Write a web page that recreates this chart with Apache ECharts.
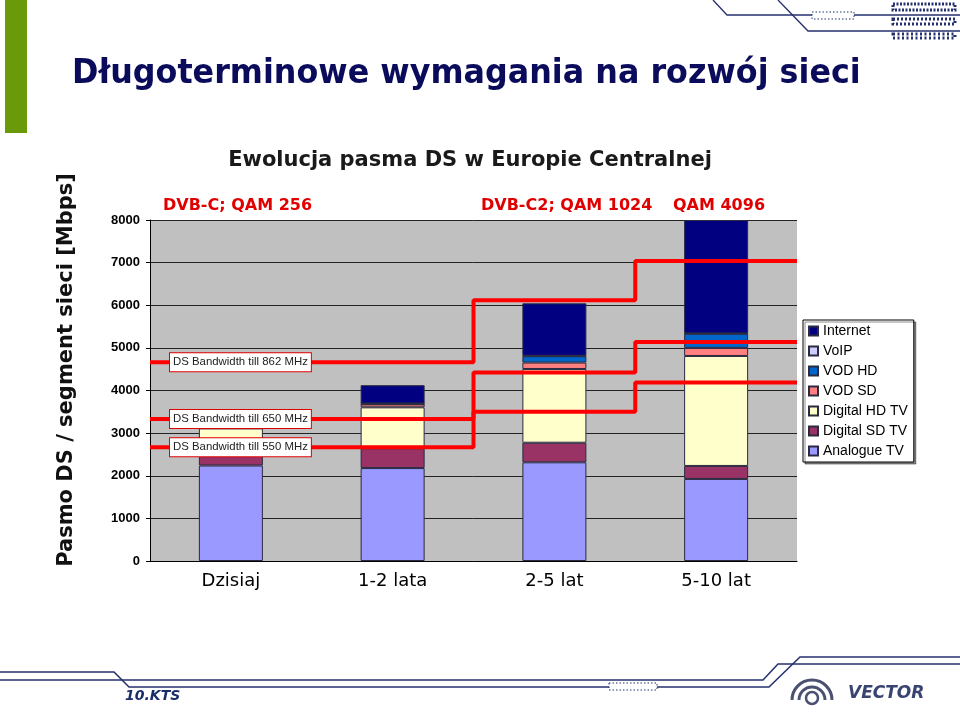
<!DOCTYPE html>
<html>
<head>
<meta charset="utf-8">
<script src="https://cdn.jsdelivr.net/npm/echarts@6/dist/echarts.min.js"></script>
<style>html,body{margin:0;padding:0;background:#fff;}#c{width:960px;height:716px;}</style>
</head>
<body>
<div id="c"></div>
<script>
// ---- data ----
const categories = ['Dzisiaj', '1-2 lata', '2-5 lat', '5-10 lat'];
const analogueTV = [2240, 2180, 2315, 1925];
const digitalSDTV = [360, 465, 460, 305];
const digitalHDTV = [510, 960, 1730, 2580];
const vodSD = [0, 70, 150, 190];
const vodHD = [0, 10, 150, 330];
const voip = [0, 10, 10, 10];
const internet = [0, 430, 1230, 2660];
const yMin = 0, yMax = 8000, yStep = 1000;

// bandwidth step lines (level per phase) and phase boundaries on a 0..4 category scale
const phaseBounds = [0, 2, 3, 4];
const bw862 = [4665, 6120, 7040];
const bw650 = [3330, 4420, 5135];
const bw550 = [2670, 3500, 4190];
const bwNames = ['DS Bandwidth till 862 MHz', 'DS Bandwidth till 650 MHz', 'DS Bandwidth till 550 MHz'];

const seriesNames = ['Analogue TV', 'Digital SD TV', 'Digital HD TV', 'VOD SD', 'VOD HD', 'VoIP', 'Internet'];
const seriesColors = ['#9999ff', '#993366', '#ffffcc', '#ff8080', '#0066cc', '#ccccff', '#000080'];

const slideTitle = 'Długoterminowe wymagania na rozwój sieci';
const chartTitle = 'Ewolucja pasma DS w Europie Centralnej';
const yTitle = 'Pasmo DS / segment sieci [Mbps]';
const phaseTexts = ['DVB-C; QAM 256', 'DVB-C2; QAM 1024', 'QAM 4096'];
const footerText = '10.KTS';
const brandText = 'VECTOR';

// ---- chart ----
const chart = echarts.init(document.getElementById('c'), null, {renderer: 'canvas'});
const barData = [analogueTV, digitalSDTV, digitalHDTV, vodSD, vodHD, voip, internet];

const barSeries = barData.map((arr, i) => ({
  name: seriesNames[i],
  type: 'bar',
  stack: 'total',
  xAxisIndex: 0,
  yAxisIndex: 0,
  barWidth: 64,
  data: arr.map(v => (v === 0 ? '-' : v)),
  itemStyle: {color: seriesColors[i], borderColor: '#2a2a40', borderWidth: 1},
  emphasis: {disabled: true},
  z: 2
}));

function stepData(levels, name) {
  return phaseBounds.map((b, i) => {
    const v = levels[Math.min(i, levels.length - 1)];
    if (i === 0) {
      return {
        value: [b, v],
        label: {
          show: true, position: 'right', distance: 20, formatter: name,
          backgroundColor: '#fff', borderColor: '#e00000', borderWidth: 1,
          padding: [2, 3], lineHeight: 14,
          color: '#222', fontFamily: 'Liberation Sans', fontSize: 11.4
        }
      };
    }
    return [b, v];
  });
}

const lineSeries = [bw862, bw650, bw550].map((lv, i) => ({
  name: bwNames[i],
  type: 'line',
  xAxisIndex: 1,
  yAxisIndex: 0,
  step: 'end',
  symbol: 'circle',
  symbolSize: 0.01,
  showSymbol: true,
  label: {show: false},
  lineStyle: {color: '#ff0000', width: 4},
  itemStyle: {color: '#ff0000'},
  data: stepData(lv, bwNames[i]),
  z: 5,
  silent: true,
  animation: false
}));

const navy = '#24306e';
const option = {
  animation: false,
  backgroundColor: '#fff',
  grid: {left: 150, top: 220, width: 647, height: 341, show: true, backgroundColor: '#c0c0c0', borderWidth: 0},
  legend: {
    data: seriesNames.slice().reverse(),
    orient: 'vertical',
    left: 803, top: 320,
    padding: [3, 6, 3, 5],
    itemGap: 4, itemWidth: 9, itemHeight: 9,
    icon: 'rect',
    backgroundColor: '#fff', borderColor: '#000', borderWidth: 1,
    shadowColor: 'rgba(0,0,0,0.45)', shadowOffsetX: 2, shadowOffsetY: 2, shadowBlur: 0,
    textStyle: {fontFamily: 'Liberation Sans', fontSize: 14, color: '#000', lineHeight: 16},
    selectedMode: false
  },
  xAxis: [
    {
      type: 'category', data: categories, gridIndex: 0,
      axisLine: {lineStyle: {color: '#000', width: 1}},
      axisTick: {show: false},
      axisLabel: {margin: 11, color: '#000', fontFamily: 'DejaVu Sans', fontSize: 18}
    },
    {type: 'value', min: 0, max: 4, gridIndex: 0, show: false}
  ],
  yAxis: {
    type: 'value', min: yMin, max: yMax, interval: yStep,
    axisLine: {show: true, lineStyle: {color: '#000', width: 1}},
    axisTick: {show: true, length: 4, lineStyle: {color: '#000'}},
    axisLabel: {margin: 10, color: '#000', fontFamily: 'Liberation Sans', fontSize: 13, fontWeight: 'bold', formatter: v => String(v)},
    splitLine: {show: true, lineStyle: {color: '#222', width: 1}}
  },
  series: barSeries.concat(lineSeries),
  graphic: [
    {type: 'rect', shape: {x: 5, y: 0, width: 22, height: 133}, style: {fill: '#6a9a0a'}},
    {type: 'text', x: 72, y: 74, scaleX: 0.935, style: {text: slideTitle, font: 'bold 34px "DejaVu Sans"', fill: '#0b0b5c', verticalAlign: 'middle'}},
    {type: 'text', x: 470, y: 161, style: {text: chartTitle, font: 'bold 21px "DejaVu Sans"', fill: '#1a1a1a', align: 'center', verticalAlign: 'middle'}},
    {type: 'text', x: 163, y: 206, style: {text: phaseTexts[0], font: 'bold 16px "DejaVu Sans"', fill: '#e00000', verticalAlign: 'middle'}},
    {type: 'text', x: 481, y: 206, style: {text: phaseTexts[1], font: 'bold 16px "DejaVu Sans"', fill: '#e00000', verticalAlign: 'middle'}},
    {type: 'text', x: 673, y: 206, style: {text: phaseTexts[2], font: 'bold 16px "DejaVu Sans"', fill: '#e00000', verticalAlign: 'middle'}},
    {type: 'text', x: 67, y: 370, rotation: Math.PI / 2, style: {text: yTitle, font: 'bold 21px "DejaVu Sans"', fill: '#111', align: 'center', verticalAlign: 'middle'}},
    // top-right decoration
    {type: 'polyline', shape: {points: [[713, 0], [727, 15], [960, 15]]}, style: {stroke: navy, lineWidth: 1.3, fill: null}},
    {type: 'polyline', shape: {points: [[778, 0], [808, 31], [960, 31]]}, style: {stroke: navy, lineWidth: 1.3, fill: null}},
    {type: 'rect', shape: {x: 812, y: 12, width: 42, height: 7}, style: {fill: '#fff', stroke: navy, lineWidth: 1, lineDash: [1.5, 2]}},
    {type: 'rect', shape: {x: 893, y: 4, width: 62, height: 6}, style: {fill: null, stroke: navy, lineWidth: 3, lineDash: [2, 1.5]}},
    {type: 'rect', shape: {x: 893, y: 19, width: 62, height: 5}, style: {fill: null, stroke: navy, lineWidth: 3, lineDash: [2, 2]}},
    {type: 'rect', shape: {x: 893, y: 34, width: 62, height: 4}, style: {fill: null, stroke: navy, lineWidth: 3, lineDash: [2, 2.5]}},
    // bottom decoration
    {type: 'polyline', shape: {points: [[0, 672], [114, 672], [129, 687], [769, 687], [800, 657], [960, 657]]}, style: {stroke: navy, lineWidth: 1.5, fill: null}},
    {type: 'polyline', shape: {points: [[0, 680], [763, 680], [778, 664], [960, 664]]}, style: {stroke: navy, lineWidth: 1.5, fill: null}},
    {type: 'rect', shape: {x: 609, y: 683, width: 48, height: 7}, style: {fill: '#fff', stroke: navy, lineWidth: 1, lineDash: [1.5, 2]}},
    {type: 'text', x: 125, y: 696, style: {text: footerText, font: 'italic bold 14px "DejaVu Sans"', fill: '#1a2d6b', verticalAlign: 'middle'}},
    {type: 'arc', shape: {cx: 812, cy: 700, r: 20, startAngle: Math.PI, endAngle: 0, clockwise: true}, style: {stroke: '#4a5070', lineWidth: 3, fill: null}},
    {type: 'arc', shape: {cx: 812, cy: 700, r: 13, startAngle: Math.PI, endAngle: 0, clockwise: true}, style: {stroke: '#4a5070', lineWidth: 3, fill: null}},
    {type: 'circle', shape: {cx: 812, cy: 698, r: 6}, style: {stroke: '#4a5070', lineWidth: 2.5, fill: null}},
    {type: 'text', x: 848, y: 694, style: {text: brandText, font: 'italic bold 17px "DejaVu Sans"', fill: '#3a4470', verticalAlign: 'middle'}}
  ]
};
chart.setOption(option);
</script>
</body>
</html>
